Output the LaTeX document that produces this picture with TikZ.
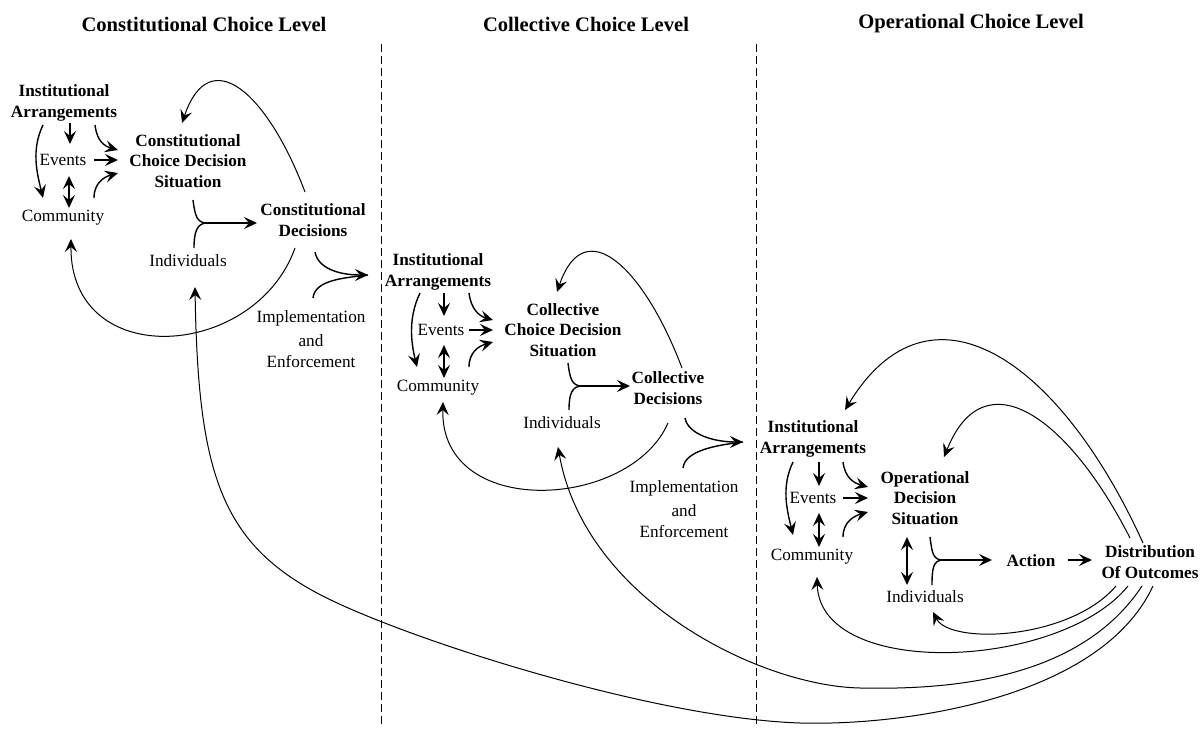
\documentclass[tikz,border=0pt]{standalone}
\usepackage{fontspec}
\setmainfont{Liberation Serif}
\usetikzlibrary{arrows.meta, calc, positioning}

\begin{document}
\begin{tikzpicture}[x=1pt, y=-1pt, line width=1.4pt,
	flow/.style={-{Stealth[length=13pt,width=12pt,inset=5pt]}},
	twoway/.style={{Stealth[length=13pt,width=12pt,inset=5pt]}-{Stealth[length=13pt,width=12pt,inset=5pt]}},
	every node/.style={align=center, inner sep=1pt, font=\fontsize{17.2}{20.5}\selectfont},
	bold/.style={font=\fontsize{17.2}{20.5}\selectfont\bfseries},
	level/.style={font=\fontsize{20.6}{24}\selectfont\bfseries},
	back/.style={line width=1pt},
	divider/.style={line width=0.8pt, dash pattern=on 8pt off 4pt}]
	\useasboundingbox (0,0) rectangle (1203,730);

	% the three levels
	\node[level] (lv1) at (204,24) {Constitutional Choice Level};
	\node[level] (lv2) at (586,24) {Collective Choice Level};
	\node[level] (lv3) at (971,24) {Operational Choice Level};
	\draw[divider] (381,44) -- (381,724);
	\draw[divider] (756,44) -- (756,724);

	% constitutional
	\node[bold] (ia1) at (64,103) {Institutional\\Arrangements};
	\node (ev1) at (63,160) {Events};
	\node (cm1) at (63,218) {Community};
	\node[bold] (ds1) at (188,161) {Constitutional\\Choice Decision\\Situation};
	\node (in1) at (188,261) {Individuals};
	\node[bold] (de1) at (313,220) {Constitutional\\Decisions};
	\node (im1) at (311,339) {Implementation\\[4pt]and\\Enforcement};
	\coordinate (j1) at (207,223);

	% collective
	\node[bold] (ia2) at (438,272) {Institutional\\Arrangements};
	\node (ev2) at (441,330) {Events};
	\node (cm2) at (438,388) {Community};
	\node[bold] (ds2) at (563,330) {Collective\\Choice Decision\\Situation};
	\node (in2) at (562,423) {Individuals};
	\node[bold] (de2) at (668,388) {Collective\\Decisions};
	\node (im2) at (684,509) {Implementation\\[4pt]and\\Enforcement};
	\coordinate (j2) at (582,386);

	% operational
	\node[bold] (ia3) at (813,439) {Institutional\\Arrangements};
	\node (ev3) at (813,498) {Events};
	\node (cm3) at (812,557) {Community};
	\node[bold] (ds3) at (925,498) {Operational\\Decision\\Situation};
	\node (in3) at (925,597) {Individuals};
	\node[bold] (ac3) at (1031,561) {Action};
	\node[bold] (do3) at (1150,562) {Distribution\\Of Outcomes};
	\coordinate (j3) at (943,560);

	% arrows, constitutional
	\draw[flow] ($(ia1)+(6,20)$) -- ($(ev1)+(7,-16)$);
	\draw[flow] ($(ia1)+(-21,22)$) .. controls +(-12,25) and +(-6,-25) .. ($(cm1)+(-20,-20)$);
	\draw[twoway] ($(ev1)+(6,16)$) -- ($(cm1)+(6,-10)$);
	\draw[flow] ($(ia1)+(31,22)$) .. controls +(2,16) and +(-14,-4) .. ($(ds1)+(-70,-11)$);
	\draw[flow] ($(ev1)+(31,0)$) -- ($(ds1)+(-70,-1)$);
	\draw[flow] ($(cm1)+(31,-20)$) .. controls +(0,-15) and +(-14,4) .. ($(ds1)+(-70,12)$);
	\draw ($(ds1)+(5,39)$) .. controls +(2,16) and +(-10,0) .. (j1);
	\draw ($(in1)+(6,-13)$) .. controls +(0,-16) and +(-10,0) .. (j1);
	\draw[flow] (j1) -- ($(de1)+(-56,3)$);
	\draw[flow, back] ($(de1)+(-8,-28)$) .. controls +(-37,-98) and +(28,-82) .. ($(ds1)+(-6,-38)$);
	\draw[flow, back] ($(de1)+(-18,28)$) .. controls +(-40,112) and +(-1,133) .. ($(cm1)+(8,21)$);
	\draw ($(im1)+(2,-41)$) .. controls +(2,-18) and +(-25,3) .. ($(ia2)+(-70,3)$);
	\draw[flow] ($(de1)+(2,32)$) .. controls +(3,16) and +(-30,0) .. ($(ia2)+(-70,3)$);

	% arrows, collective
	\draw[flow] ($(ia2)+(6,21)$) -- ($(ev2)+(3,-14)$);
	\draw[flow] ($(ia2)+(-18,21)$) .. controls +(-12,25) and +(-6,-25) .. ($(cm2)+(-21,-21)$);
	\draw[twoway] ($(ev2)+(3,15)$) -- ($(cm2)+(6,-10)$);
	\draw[flow] ($(ia2)+(31,21)$) .. controls +(2,16) and +(-14,-4) .. ($(ds2)+(-70,-10)$);
	\draw[flow] ($(ev2)+(28,0)$) -- ($(ds2)+(-70,0)$);
	\draw[flow] ($(cm2)+(31,-21)$) .. controls +(0,-15) and +(-14,4) .. ($(ds2)+(-70,12)$);
	\draw ($(ds2)+(5,33)$) .. controls +(2,16) and +(-10,0) .. (j2);
	\draw ($(in2)+(7,-13)$) .. controls +(0,-16) and +(-10,0) .. (j2);
	\draw[flow] (j2) -- ($(de2)+(-38,-2)$);
	\draw[flow, back] ($(de2)+(14,-20)$) .. controls +(-37,-98) and +(28,-82) .. ($(ds2)+(-6,-38)$);
	\draw[flow, back] ($(de2)+(0,35)$) .. controls +(-38,87) and +(-3,118) .. ($(cm2)+(5,14)$);
	\draw ($(im2)+(-1,-41)$) .. controls +(2,-18) and +(-25,3) .. ($(ia3)+(-70,3)$);
	\draw[flow] ($(de2)+(17,30)$) .. controls +(3,16) and +(-30,0) .. ($(ia3)+(-70,3)$);

	% arrows, operational
	\draw[flow] ($(ia3)+(6,23)$) -- ($(ev3)+(6,-12)$);
	\draw[flow] ($(ia3)+(-20,23)$) .. controls +(-12,25) and +(-6,-25) .. ($(cm3)+(-19,-22)$);
	\draw[twoway] ($(ev3)+(6,15)$) -- ($(cm3)+(7,-10)$);
	\draw[flow] ($(ia3)+(30,23)$) .. controls +(2,16) and +(-14,-4) .. ($(ds3)+(-57,-11)$);
	\draw[flow] ($(ev3)+(30,0)$) -- ($(ds3)+(-57,0)$);
	\draw[flow] ($(cm3)+(31,-20)$) .. controls +(0,-15) and +(-14,4) .. ($(ds3)+(-57,14)$);
	\draw[twoway] ($(ds3)+(-18,39)$) -- ($(in3)+(-18,-12)$);
	\draw ($(ds3)+(5,39)$) .. controls +(2,16) and +(-10,0) .. (j3);
	\draw ($(in3)+(7,-12)$) .. controls +(0,-16) and +(-10,0) .. (j3);
	\draw[flow] (j3) -- ($(ac3)+(-39,-1)$);
	\draw[flow] ($(ac3)+(37,-1)$) -- ($(do3)+(-58,-2)$);

	% outcomes fed back
	\draw[flow, back] ($(do3)+(-7,-19)$) .. controls +(-83,-183) and +(85,-140) .. ($(ia3)+(32,-29)$);
	\draw[flow, back] ($(do3)+(-20,-24)$) .. controls +(-60,-118) and +(41,-102) .. ($(ds3)+(19,-41)$);
	\draw[flow, back] ($(do3)+(-34,24)$) .. controls +(-46,54) and +(17,33) .. ($(in3)+(8,15)$);
	\draw[flow, back] ($(do3)+(-22,24)$) .. controls +(-68,84) and +(3,103) .. ($(cm3)+(5,20)$);
	\draw[flow, back] ($(do3)+(-8,24)$) .. controls (1080,680) and (950,690) .. (860,688)
		.. controls (760,686) and (585,600) .. ($(in2)+(-4,24)$);
	\draw[flow, back] ($(do3)+(3,24)$) .. controls (1100,700) and (900,726) .. (800,723)
		.. controls (650,718) and (397,636) .. (317,593)
		.. controls (220,541) and (198,470) .. ($(in1)+(7,26)$);

\end{tikzpicture}
\end{document}
